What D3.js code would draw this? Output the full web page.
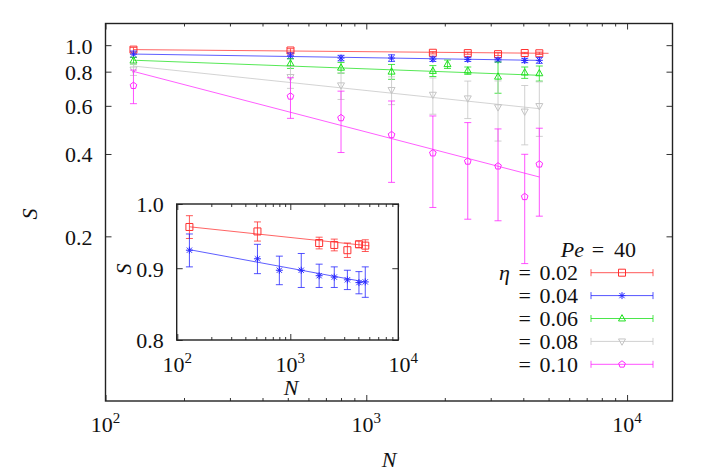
<!DOCTYPE html>
<html><head><meta charset="utf-8">
<script src="https://cdn.jsdelivr.net/npm/d3@7"></script>
<style>
body{margin:0;background:#fff}
svg{display:block}
text{font-family:"Liberation Serif","DejaVu Serif","Times New Roman",serif;fill:#111}
</style></head>
<body><svg id="c" width="709" height="473"></svg>
<script>
// ---------------- data ----------------
const seriesNames = ["0.02", "0.04", "0.06", "0.08", "0.10"];
const seriesColors = ["#ff3030", "#2828ff", "#1ee01e", "#c4c4c4", "#ff28ff"];
const seriesMarkers = ["square", "asterisk", "triUp", "triDown", "pentagon"];

const N_002 = [128, 512, 1800, 2450, 3200, 4050, 4608];
const S_002 = [0.963, 0.956, 0.938, 0.935, 0.927, 0.936, 0.934];
const E_002 = [0.018, 0.015, 0.009, 0.009, 0.011, 0.005, 0.009];

const N_004 = [128, 512, 800, 1250, 1800, 2450, 3200, 4050, 4608];
const S_004 = [0.927, 0.914, 0.897, 0.897, 0.889, 0.887, 0.883, 0.879, 0.880];
const E_004 = [0.025, 0.022, 0.021, 0.025, 0.017, 0.015, 0.014, 0.016, 0.022];

const N_006 = [128, 512, 800, 1250, 1800, 2048, 2450, 3200, 4050, 4608];
const S_006 = [0.878, 0.857, 0.827, 0.800, 0.805, 0.852, 0.807, 0.767, 0.794, 0.789];
const E_006 = [0.025, 0.035, 0.037, 0.050, 0.037, 0.030, 0.025, 0.100, 0.038, 0.050];

const N_008 = [128, 512, 800, 1250, 1800, 2450, 3200, 4050, 4608];
const S_008 = [0.815, 0.765, 0.713, 0.686, 0.659, 0.639, 0.593, 0.572, 0.599];
const E_008 = [0.040, 0.070, 0.080, 0.080, 0.100, 0.100, 0.147, 0.140, 0.135];

const N_010 = [128, 512, 800, 1250, 1800, 2450, 3200, 4050, 4608];
const S_010 = [0.711, 0.650, 0.542, 0.470, 0.403, 0.376, 0.361, 0.279, 0.367];
const E_010 = [0.100, 0.110, 0.137, 0.155, 0.148, 0.145, 0.133, 0.120, 0.130];

// power-law fits S = a * N^b, drawn from fitStart to fitEnd
const fitA = [1.004, 0.997, 1.046, 1.364, 2.67];
const fitB = [-0.00853, -0.01482, -0.03542, -0.1002, -0.248];
const fitStart = [128, 128, 128, 128, 128];
const fitEnd = [5000, 4608, 4608, 4608, 4608];

const mainYTicks = [0.2, 0.4, 0.6, 0.8, 1.0];
const insetYTicks = [0.8, 0.9, 1.0];
const decadeLabels = [100, 1000, 10000];
const legendTitle = ["Pe", "=", "40"];
const legendSymbol = "η";

const Ns = [N_002, N_004, N_006, N_008, N_010];
const Ss = [S_002, S_004, S_006, S_008, S_010];
const Es = [E_002, E_004, E_006, E_008, E_010];
const series = seriesNames.map((name, i) => ({
  name, color: seriesColors[i], marker: seriesMarkers[i],
  pts: Ns[i].map((n, j) => ({N: n, S: Ss[i][j], E: Es[i][j]})),
  a: fitA[i], b: fitB[i], n0: fitStart[i], n1: fitEnd[i]
}));

// ---------------- drawing ----------------
const svg = d3.select("#c");
const FONT = 22;

function markerPath(type, s) {
  if (type === "square") return `M${-s},${-s}H${s}V${s}H${-s}Z`;
  if (type === "asterisk") { const d = s * 0.75; return `M${-s},0H${s}M0,${-s}V${s}M${-d},${-d}L${d},${d}M${-d},${d}L${d},${-d}`; }
  if (type === "triUp") return `M0,${-s * 1.1}L${s},${s * 0.7}L${-s},${s * 0.7}Z`;
  if (type === "triDown") return `M0,${s * 1.1}L${s},${-s * 0.7}L${-s},${-s * 0.7}Z`;
  if (type === "pentagon") {
    const p = d3.range(5).map(k => { const a = -Math.PI / 2 + k * 2 * Math.PI / 5; return [s * Math.cos(a), s * Math.sin(a)]; });
    return "M" + p.map(q => q[0].toFixed(2) + "," + q[1].toFixed(2)).join("L") + "Z";
  }
}

function drawSeries(g, s, x, y, ms, cap) {
  const gg = g.append("g").attr("stroke", s.color).attr("fill", "none").attr("stroke-width", 1);
  const line = d3.line().x(d => x(d)).y(d => y(s.a * Math.pow(d, s.b)));
  gg.append("path").attr("d", line([s.n0, s.n1])).attr("stroke-opacity", 0.75);
  s.pts.forEach(p => {
    const xx = x(p.N), y1 = y(p.S + p.E), y2 = y(p.S - p.E);
    gg.append("path").attr("stroke-opacity", 0.8)
      .attr("d", `M${xx},${y1}V${y2}M${xx - cap},${y1}H${xx + cap}M${xx - cap},${y2}H${xx + cap}`);
    gg.append("path").attr("d", markerPath(s.marker, ms)).attr("transform", `translate(${xx},${y(p.S)})`);
  });
}

function powLabel(g, xx, yy, exp) {
  const t = g.append("text").attr("x", xx).attr("y", yy).attr("text-anchor", "middle").attr("font-size", FONT);
  t.append("tspan").text("10");
  t.append("tspan").attr("font-size", 15).attr("dy", -9).text(exp);
}

function logAxes(g, x, y, left, right, top, bottom, xMax, yTicks, fmt) {
  const allX = x.ticks().filter(v => v <= xMax && v >= x.domain()[0]);
  const majX = allX.filter(v => Math.abs(Math.log10(v) - Math.round(Math.log10(v))) < 1e-9);
  const minX = allX.filter(v => !majX.includes(v));
  const style = sel => { sel.select(".domain").remove(); sel.selectAll("line").attr("stroke", "#333"); sel.selectAll("text").remove(); };
  g.append("g").attr("transform", `translate(0,${bottom})`).call(d3.axisBottom(x).tickValues(majX).tickSizeInner(-6).tickSizeOuter(0)).call(style);
  g.append("g").attr("transform", `translate(0,${bottom})`).call(d3.axisBottom(x).tickValues(minX).tickSizeInner(-3).tickSizeOuter(0)).call(style);
  g.append("g").attr("transform", `translate(0,${top})`).call(d3.axisTop(x).tickValues(majX).tickSizeInner(-6).tickSizeOuter(0)).call(style);
  g.append("g").attr("transform", `translate(0,${top})`).call(d3.axisTop(x).tickValues(minX).tickSizeInner(-3).tickSizeOuter(0)).call(style);
  g.append("g").attr("transform", `translate(${right},0)`).call(d3.axisRight(y).tickValues(yTicks).tickSizeInner(-6).tickSizeOuter(0)).call(style);
  const la = g.append("g").attr("transform", `translate(${left},0)`)
    .call(d3.axisLeft(y).tickValues(yTicks).tickFormat(fmt).tickSizeInner(-6).tickSizeOuter(0).tickPadding(13));
  la.select(".domain").remove();
  la.selectAll("line").attr("stroke", "#333");
  la.attr("font-family", null).attr("font-size", null);
  la.selectAll("text").attr("font-size", FONT).attr("fill", "#111").attr("dy", "0.36em");
  g.append("rect").attr("x", left).attr("y", top).attr("width", right - left).attr("height", bottom - top)
    .attr("fill", "none").attr("stroke", "#222").attr("stroke-width", 1.4);
}

// ---- main plot ----
const mainL = 105.5, mainR = 672.5, mainT = 23.5, mainB = 401;
const xM = d3.scaleLog().domain([100, 15000]).range([mainL, 673]);
const yM = d3.scaleLog().domain([0.05, 1.2]).range([mainB, mainT]);
const gMain = svg.append("g");
series.forEach(s => drawSeries(gMain, s, xM, yM, 3.5, 3.5));
logAxes(gMain, xM, yM, mainL, mainR, mainT, mainB, 15000, mainYTicks, d3.format(".1f"));
decadeLabels.forEach(v => powLabel(gMain, xM(v), 432, String(Math.round(Math.log10(v)))));
gMain.append("text").attr("x", 389).attr("y", 467).attr("text-anchor", "middle").attr("font-size", FONT).attr("font-style", "italic").text("N");
gMain.append("text").attr("transform", "translate(37,214) rotate(-90)").attr("text-anchor", "middle").attr("font-size", FONT).attr("font-style", "italic").text("S");

// ---- legend ----
const lg = svg.append("g");
function lgText(x, y, str, italic, anchor) {
  return lg.append("text").attr("x", x).attr("y", y).attr("text-anchor", anchor || "end")
    .attr("font-size", FONT).attr("font-style", italic ? "italic" : null).text(str);
}
lgText(584, 257, legendTitle[0], true, "end");
lgText(598, 257, legendTitle[1], false, "middle");
lgText(614, 257, legendTitle[2], false, "start");
series.forEach((s, i) => {
  const cy = 272.7 + i * 22.9;
  lgText(578, cy + 7.5, s.name, false, "end");
  lgText(531, cy + 7.5, "=", false, "end");
  if (i === 0) lgText(510, cy + 7.5, legendSymbol, true, "end");
  const gg = lg.append("g").attr("stroke", s.color).attr("fill", "none").attr("stroke-width", 1);
  gg.append("path").attr("stroke-opacity", 0.8).attr("d", `M591,${cy}H653M591,${cy - 3.5}V${cy + 3.5}M653,${cy - 3.5}V${cy + 3.5}`);
  gg.append("path").attr("d", markerPath(s.marker, 3.5)).attr("transform", `translate(622,${cy})`);
});

// ---- inset ----
const inL = 176.7, inR = 398.3, inT = 204, inB = 340;
const xI = d3.scaleLog().domain([100, 10000]).range([177.3, 403.3]);
const yI = d3.scaleLog().domain([0.8, 1.0]).range([inB, inT]);
const gIn = svg.append("g");
gIn.append("rect").attr("x", inL).attr("y", inT).attr("width", inR - inL).attr("height", inB - inT).attr("fill", "#fff");
series.slice(0, 2).forEach(s => drawSeries(gIn, s, xI, yI, 3.5, 3.5));
logAxes(gIn, xI, yI, inL, inR, inT, inB, 9500, insetYTicks, d3.format(".1f"));
decadeLabels.forEach(v => powLabel(gIn, xI(v), 371.5, String(Math.round(Math.log10(v)))));
gIn.append("text").attr("x", 291).attr("y", 395).attr("text-anchor", "middle").attr("font-size", FONT).attr("font-style", "italic").text("N");
gIn.append("text").attr("transform", "translate(131,269) rotate(-90)").attr("text-anchor", "middle").attr("font-size", FONT).attr("font-style", "italic").text("S");
</script></body></html>
